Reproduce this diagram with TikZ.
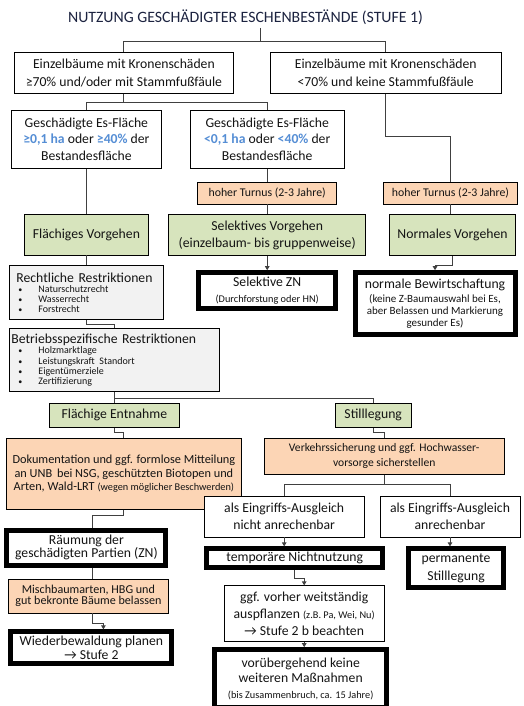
\documentclass[tikz,border=0pt]{standalone}
\usepackage{fontspec}
\setmainfont{Carlito}
\usetikzlibrary{positioning, arrows.meta}
\definecolor{titlenavy}{HTML}{1C2340}
\definecolor{inkblack}{HTML}{141414}
\definecolor{leafgreen}{HTML}{D7E4BD}
\definecolor{barkorange}{HTML}{FCD5B5}
\definecolor{restrictgray}{HTML}{F2F2F2}
\definecolor{areablue}{HTML}{558ED5}
\definecolor{connectorgray}{HTML}{404040}
\newcommand{\setfs}[2]{\fontsize{#1}{#2}\selectfont}
\newcommand{\boxfont}{\setfs{13.7}{17.5}}
\newcommand{\notefont}{\setfs{11}{12.3}}
\newcommand{\tinyfont}{\setfs{10.3}{11}}
\newcommand{\hl}[1]{\textcolor{areablue}{\textbf{#1}}}
\newcommand{\bul}{\makebox[27pt][l]{\hspace{7pt}{\setfs{8}{8}•}}}
\tikzstyle{plainbox} = [rectangle, draw=black, line width=0.8pt, fill=white, align=center, inner sep=2pt, font=\boxfont, text=inkblack]
\tikzstyle{greenbox} = [plainbox, fill=leafgreen]
\tikzstyle{orangebox} = [plainbox, fill=barkorange]
\tikzstyle{graybox} = [plainbox, fill=restrictgray, align=left]
\tikzstyle{resultbox} = [plainbox, line width=5pt]
\tikzstyle{conn} = [line width=0.9pt, draw=connectorgray]
\tikzstyle{arrow} = [conn, -{Triangle[length=4pt,width=4.5pt]}]

\begin{document}
\begin{tikzpicture}
    \useasboundingbox (0,0) rectangle (524pt,-706pt);

    % Titel
    \node[font=\setfs{15.8}{18}, text=titlenavy] (title) at (245.5pt,-17pt) {NUTZUNG GESCHÄDIGTER ESCHENBESTÄNDE (STUFE 1)};
    \coordinate (topsplit) at (260pt,-41pt);

    % Kronenschaeden
    \node[plainbox, minimum width=219pt, minimum height=41pt, anchor=north west] (crownhigh) at (14pt,-52pt) {Einzelbäume mit Kronenschäden\\≥70\% und/oder mit Stammfußfäule};
    \node[plainbox, minimum width=231pt, minimum height=41pt, right=36pt of crownhigh] (crownlow) {Einzelbäume mit Kronenschäden\\<70\% und keine Stammfußfäule};

    % Es-Flaeche
    \node[plainbox, minimum width=150pt, minimum height=58pt, below=16pt of crownhigh, xshift=-37.5pt, font=\setfs{13.7}{16.7}] (areabig) {Geschädigte Es-Fläche\\\hl{≥0,1 ha} oder \hl{≥40\%} der\\Bestandesfläche};
    \node[plainbox, minimum width=154pt, minimum height=58pt, right=28pt of areabig, font=\setfs{13.7}{16.7}] (areasmall) {Geschädigte Es-Fläche\\\hl{<0,1 ha} oder \hl{<40\%} der\\Bestandesfläche};

    % Turnus
    \node[orangebox, minimum width=139pt, minimum height=22pt, below=13pt of areasmall, font=\setfs{11.8}{13}] (turnmid) {hoher Turnus (2-3 Jahre)};
    \node[orangebox, minimum width=134pt, minimum height=22pt, right=46pt of turnmid, font=\setfs{11.8}{13}] (turnright) {hoher Turnus (2-3 Jahre)};

    % Vorgehen
    \node[greenbox, minimum width=124pt, minimum height=41pt, below=45pt of areabig] (areawide) {Flächiges Vorgehen};
    \node[greenbox, minimum width=197pt, minimum height=41pt, below=10pt of turnmid, font=\setfs{13.7}{17.3}] (selective) {Selektives Vorgehen\\(einzelbaum- bis gruppenweise)};
    \node[greenbox, minimum width=126pt, minimum height=41pt, below=10pt of turnright, xshift=2pt] (normal) {Normales Vorgehen};

    % Ergebnisse oben
    \node[resultbox, minimum width=137pt, minimum height=36pt, below=14pt of selective, font=\setfs{13.7}{16}] (selzn) {Selektive ZN\\{\tinyfont (Durchforstung oder HN)}};
    \node[resultbox, minimum width=160pt, minimum height=62pt, below=14pt of normal, xshift=-17.5pt, font=\setfs{13.7}{12.3}] (normwork) {normale Bewirtschaftung\\[2pt]{\notefont (keine Z-Baumauswahl bei Es,}\\{\notefont aber Belassen und Markierung}\\{\notefont gesunder Es)}};

    % Restriktionen
    \node[graybox, text width=150pt, minimum height=54pt, below=10pt of areawide] (legal) {{\setfs{13.7}{14}\hspace{5pt}Rechtliche Restriktionen\par}{\setfs{10}{10.2}\bul Naturschutzrecht\par\bul Wasserrecht\par\bul Forstrecht\par}};
    \node[graybox, text width=206pt, minimum height=63pt, below=8pt of legal.south west, anchor=north west] (company) {{\setfs{13.7}{14}Betriebsspezifische Restriktionen\par}{\setfs{10}{10.2}\bul Holzmarktlage\par\bul Leistungskraft Standort\par\bul Eigentümerziele\par\bul Zertifizierung\par}};

    % Entnahme / Stilllegung
    \node[greenbox, minimum width=130pt, minimum height=24pt, below=11pt of company] (clearing) {Flächige Entnahme};
    \node[greenbox, minimum width=76pt, minimum height=24pt, right=155pt of clearing] (setaside) {Stilllegung};
    \node[orangebox, minimum width=235pt, minimum height=71pt, below=10pt of clearing, xshift=9.5pt, font=\setfs{12.3}{13.5}] (docu) {Dokumentation und ggf. formlose Mitteilung\\an UNB\, bei NSG, geschützten Biotopen und\\Arten, Wald-LRT {\tinyfont (wegen möglicher Beschwerden)}};
    \node[orangebox, minimum width=240pt, minimum height=36pt, below=10pt of setaside, xshift=11pt, font=\setfs{11.6}{15}] (safety) {Verkehrssicherung und ggf. Hochwasser-\\vorsorge sicherstellen};

    % Eingriffs-Ausgleich
    \node[plainbox, minimum width=160pt, minimum height=41pt, below=21pt of safety, xshift=-100pt, font=\setfs{13.7}{16.7}] (notcount) {als Eingriffs-Ausgleich\\nicht anrechenbar};
    \node[plainbox, minimum width=140pt, minimum height=41pt, right=15pt of notcount, font=\setfs{13.7}{16.7}] (count) {als Eingriffs-Ausgleich\\anrechenbar};
    \node[resultbox, minimum width=176pt, minimum height=19pt, below=9pt of notcount, xshift=10.5pt] (temporary) {temporäre Nichtnutzung};
    \node[resultbox, minimum width=95pt, minimum height=39pt, below=9pt of count, xshift=6pt, font=\setfs{13.7}{18}] (permanent) {permanente\\Stilllegung};
    \node[plainbox, minimum width=160pt, minimum height=56pt, below=15pt of temporary, xshift=9.5pt, font=\setfs{13.7}{16.7}] (replant) {ggf. vorher weitständig\\auspflanzen {\tinyfont (z.B. Pa, Wei, Nu)}\\→ Stufe 2 b beachten};
    \node[resultbox, minimum width=172pt, minimum height=58pt, below=5pt of replant, xshift=-3.5pt, font=\setfs{13.7}{15.5}] (nomeasure) {vorübergehend keine\\weiteren Maßnahmen\\{\tinyfont (bis Zusammenbruch, ca. 15 Jahre)}};

    % linker Strang unten
    \node[resultbox, minimum width=159pt, minimum height=35pt, below=18pt of docu, xshift=-37.5pt, font=\setfs{13.7}{13.3}] (removal) {Räumung der\\geschädigten Partien (ZN)};
    \node[orangebox, minimum width=160pt, minimum height=34pt, below=11pt of removal, xshift=2pt, font=\setfs{12.1}{11}] (mixed) {Mischbaumarten, HBG und\\gut bekronte Bäume belassen};
    \node[resultbox, minimum width=161pt, minimum height=32pt, below=16pt of mixed, xshift=3pt, font=\setfs{13.7}{14.5}] (reforest) {Wiederbewaldung planen\\→ Stufe 2};

    % Verbindungen
    \draw[conn] (title.south -| topsplit) -- (topsplit);
    \draw[conn] (topsplit) -| (crownhigh.north);
    \draw[conn] (topsplit) -| (crownlow.north);
    \draw[conn] (crownhigh.south) -- ++(0,-9pt) coordinate (areasplit) -| (areabig.north);
    \draw[conn] (areasplit) -| (areasmall.north);
    \draw[conn] (crownlow.south) -- ++(0,-43pt) -| (turnright.north);
    \draw[conn] (areasmall.south) -- (areasmall.south |- turnmid.north);
    \draw[conn] (areabig.south) -- (areabig.south |- areawide.north);
    \draw[conn] (turnmid.south) -- (turnmid.south |- selective.north);
    \draw[conn] (turnright.south) -- (turnright.south |- normal.north);
    \draw[conn] (areawide.south) -- (areawide.south |- legal.north);
    \draw[arrow] (selective.south) -- (selective.south |- selzn.north);
    \draw[arrow] (normal.south) -- ++(0,-9pt) -| (normwork.north);
    \draw[conn] (legal.south) -- ++(0,-4pt) -| (company.north);
    \draw[conn] (company.south) -- ++(0,-6pt) coordinate (usesplit) -| (clearing.north);
    \draw[conn] (usesplit) -| (setaside.north);
    \draw[conn] (clearing.south) -- ++(0,-5pt) -| (docu.north);
    \draw[conn] (setaside.south) -- ++(0,-5pt) -| (safety.north);
    \draw[conn] (safety.south) -- ++(0,-10pt) coordinate (offsetsplit) -| (notcount.north);
    \draw[conn] (offsetsplit) -| (count.north);
    \draw[arrow] (notcount.south) -- (notcount.south |- temporary.north);
    \draw[arrow] (count.south) -- (count.south |- permanent.north);
    \draw[arrow] (temporary.south) -- ++(0,-8pt) -| (replant.north);
    \draw[arrow] (replant.south) -- (replant.south |- nomeasure.north);
    \draw[conn] (docu.south) -- ++(0,-6pt) -| ([xshift=6pt]removal.north);
    \draw[conn] ([xshift=6pt]removal.south) -- ([xshift=6pt]removal.south |- mixed.north);
    \draw[arrow] ([xshift=4pt]mixed.south) -- ++(0,-10pt) -| ([xshift=12pt]reforest.north);
\end{tikzpicture}
\end{document}
